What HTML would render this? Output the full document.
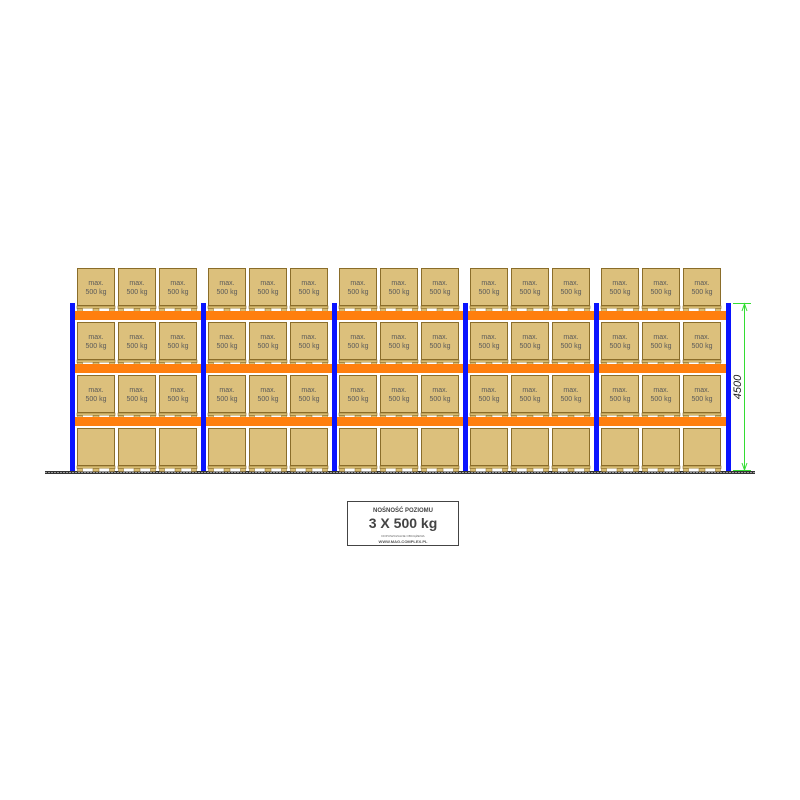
<!DOCTYPE html>
<html><head><meta charset="utf-8"><style>
html,body{margin:0;padding:0;background:#fff;width:800px;height:800px;overflow:hidden}
svg{display:block}
</style></head><body>
<svg width="800" height="800" viewBox="0 0 800 800" xmlns="http://www.w3.org/2000/svg" font-family="Liberation Sans, sans-serif">
<defs>
<g id="pal">
<rect x="0" y="0" width="38" height="2.5" fill="#d8bc72" stroke="#8a6d2a" stroke-width="0.6"/>
<rect x="0.5" y="2.5" width="37" height="3" fill="#fff"/>
<rect x="0.5" y="2.5" width="5" height="3" fill="#d8bc72" stroke="#8a6d2a" stroke-width="0.5"/>
<rect x="16" y="2.5" width="6" height="3" fill="#d8bc72" stroke="#8a6d2a" stroke-width="0.5"/>
<rect x="32.5" y="2.5" width="5" height="3" fill="#d8bc72" stroke="#8a6d2a" stroke-width="0.5"/>
</g>
<g id="bx">
<rect x="0.5" y="0.5" width="37" height="37" fill="#dcc07c" stroke="#8a6d2a" stroke-width="1"/>
<use href="#pal" y="38"/>
</g>
</defs>

<!-- ground -->
<rect x="45" y="471" width="710" height="3" fill="#333"/>
<line x1="45" y1="472.5" x2="755" y2="472.5" stroke="#999" stroke-width="1" stroke-dasharray="2 1"/>

<g id="boxes">
<!-- rows at y 268, 322, 375, 428 -->
</g>
<g fill="#5a5a5a" font-size="7" text-anchor="middle">
<g id="r"></g>
</g>

<!-- box layers drawn statically -->
<g>
<use href="#bx" x="77" y="268"/><use href="#bx" x="118" y="268"/><use href="#bx" x="159" y="268"/>
<use href="#bx" x="208" y="268"/><use href="#bx" x="249" y="268"/><use href="#bx" x="290" y="268"/>
<use href="#bx" x="339" y="268"/><use href="#bx" x="380" y="268"/><use href="#bx" x="421" y="268"/>
<use href="#bx" x="470" y="268"/><use href="#bx" x="511" y="268"/><use href="#bx" x="552" y="268"/>
<use href="#bx" x="601" y="268"/><use href="#bx" x="642" y="268"/><use href="#bx" x="683" y="268"/>

<use href="#bx" x="77" y="322"/><use href="#bx" x="118" y="322"/><use href="#bx" x="159" y="322"/>
<use href="#bx" x="208" y="322"/><use href="#bx" x="249" y="322"/><use href="#bx" x="290" y="322"/>
<use href="#bx" x="339" y="322"/><use href="#bx" x="380" y="322"/><use href="#bx" x="421" y="322"/>
<use href="#bx" x="470" y="322"/><use href="#bx" x="511" y="322"/><use href="#bx" x="552" y="322"/>
<use href="#bx" x="601" y="322"/><use href="#bx" x="642" y="322"/><use href="#bx" x="683" y="322"/>

<use href="#bx" x="77" y="375"/><use href="#bx" x="118" y="375"/><use href="#bx" x="159" y="375"/>
<use href="#bx" x="208" y="375"/><use href="#bx" x="249" y="375"/><use href="#bx" x="290" y="375"/>
<use href="#bx" x="339" y="375"/><use href="#bx" x="380" y="375"/><use href="#bx" x="421" y="375"/>
<use href="#bx" x="470" y="375"/><use href="#bx" x="511" y="375"/><use href="#bx" x="552" y="375"/>
<use href="#bx" x="601" y="375"/><use href="#bx" x="642" y="375"/><use href="#bx" x="683" y="375"/>

<use href="#bx" x="77" y="428"/><use href="#bx" x="118" y="428"/><use href="#bx" x="159" y="428"/>
<use href="#bx" x="208" y="428"/><use href="#bx" x="249" y="428"/><use href="#bx" x="290" y="428"/>
<use href="#bx" x="339" y="428"/><use href="#bx" x="380" y="428"/><use href="#bx" x="421" y="428"/>
<use href="#bx" x="470" y="428"/><use href="#bx" x="511" y="428"/><use href="#bx" x="552" y="428"/>
<use href="#bx" x="601" y="428"/><use href="#bx" x="642" y="428"/><use href="#bx" x="683" y="428"/>
</g>

<!-- labels -->
<g fill="#5a5a5a" font-size="7" text-anchor="middle">
<text x="96" y="285">max.</text><text x="96" y="294">500 kg</text>
<text x="137" y="285">max.</text><text x="137" y="294">500 kg</text>
<text x="178" y="285">max.</text><text x="178" y="294">500 kg</text>
<text x="227" y="285">max.</text><text x="227" y="294">500 kg</text>
<text x="268" y="285">max.</text><text x="268" y="294">500 kg</text>
<text x="309" y="285">max.</text><text x="309" y="294">500 kg</text>
<text x="358" y="285">max.</text><text x="358" y="294">500 kg</text>
<text x="399" y="285">max.</text><text x="399" y="294">500 kg</text>
<text x="440" y="285">max.</text><text x="440" y="294">500 kg</text>
<text x="489" y="285">max.</text><text x="489" y="294">500 kg</text>
<text x="530" y="285">max.</text><text x="530" y="294">500 kg</text>
<text x="571" y="285">max.</text><text x="571" y="294">500 kg</text>
<text x="620" y="285">max.</text><text x="620" y="294">500 kg</text>
<text x="661" y="285">max.</text><text x="661" y="294">500 kg</text>
<text x="702" y="285">max.</text><text x="702" y="294">500 kg</text>

<text x="96" y="339">max.</text><text x="96" y="348">500 kg</text>
<text x="137" y="339">max.</text><text x="137" y="348">500 kg</text>
<text x="178" y="339">max.</text><text x="178" y="348">500 kg</text>
<text x="227" y="339">max.</text><text x="227" y="348">500 kg</text>
<text x="268" y="339">max.</text><text x="268" y="348">500 kg</text>
<text x="309" y="339">max.</text><text x="309" y="348">500 kg</text>
<text x="358" y="339">max.</text><text x="358" y="348">500 kg</text>
<text x="399" y="339">max.</text><text x="399" y="348">500 kg</text>
<text x="440" y="339">max.</text><text x="440" y="348">500 kg</text>
<text x="489" y="339">max.</text><text x="489" y="348">500 kg</text>
<text x="530" y="339">max.</text><text x="530" y="348">500 kg</text>
<text x="571" y="339">max.</text><text x="571" y="348">500 kg</text>
<text x="620" y="339">max.</text><text x="620" y="348">500 kg</text>
<text x="661" y="339">max.</text><text x="661" y="348">500 kg</text>
<text x="702" y="339">max.</text><text x="702" y="348">500 kg</text>

<text x="96" y="392">max.</text><text x="96" y="401">500 kg</text>
<text x="137" y="392">max.</text><text x="137" y="401">500 kg</text>
<text x="178" y="392">max.</text><text x="178" y="401">500 kg</text>
<text x="227" y="392">max.</text><text x="227" y="401">500 kg</text>
<text x="268" y="392">max.</text><text x="268" y="401">500 kg</text>
<text x="309" y="392">max.</text><text x="309" y="401">500 kg</text>
<text x="358" y="392">max.</text><text x="358" y="401">500 kg</text>
<text x="399" y="392">max.</text><text x="399" y="401">500 kg</text>
<text x="440" y="392">max.</text><text x="440" y="401">500 kg</text>
<text x="489" y="392">max.</text><text x="489" y="401">500 kg</text>
<text x="530" y="392">max.</text><text x="530" y="401">500 kg</text>
<text x="571" y="392">max.</text><text x="571" y="401">500 kg</text>
<text x="620" y="392">max.</text><text x="620" y="401">500 kg</text>
<text x="661" y="392">max.</text><text x="661" y="401">500 kg</text>
<text x="702" y="392">max.</text><text x="702" y="401">500 kg</text>
</g>

<!-- beams -->
<g fill="#ff7f0e">
<rect x="73" y="311" width="656" height="9"/>
<rect x="73" y="364" width="656" height="9"/>
<rect x="73" y="417" width="656" height="9"/>
</g>

<!-- uprights -->
<g fill="#0a14ff">
<rect x="70" y="303" width="5" height="168"/>
<rect x="201" y="303" width="5" height="168"/>
<rect x="332" y="303" width="5" height="168"/>
<rect x="463" y="303" width="5" height="168"/>
<rect x="594" y="303" width="5" height="168"/>
<rect x="726" y="303" width="5" height="168"/>
</g>

<!-- dimension -->
<g stroke="#33dd33" stroke-width="1" fill="none">
<line x1="733" y1="303.5" x2="751" y2="303.5"/>
<line x1="733" y1="470.5" x2="751" y2="470.5"/>
<line x1="744.5" y1="304" x2="744.5" y2="470"/>
<polyline points="742,311 744.5,304 747,311"/>
<polyline points="742,463 744.5,470 747,463"/>
</g>
<text transform="translate(741,387) rotate(-90)" font-size="11" font-style="italic" text-anchor="middle" fill="#222">4500</text>

<!-- label -->
<rect x="347.5" y="501.5" width="111" height="44" fill="#fff" stroke="#444" stroke-width="1"/>
<text x="403" y="512" font-size="6" font-weight="bold" text-anchor="middle" fill="#444">NOŚNOŚĆ POZIOMU</text>
<text x="403" y="528" font-size="14" font-weight="bold" text-anchor="middle" fill="#444">3 X 500 kg</text>
<text x="403" y="537" font-size="3" text-anchor="middle" fill="#666">DOPUSZCZALNE OBCIĄŻENIA</text>
<text x="403" y="543" font-size="4" font-weight="bold" text-anchor="middle" fill="#555">WWW.MAG-COMPLEX.PL</text>
</svg>
</body></html>
